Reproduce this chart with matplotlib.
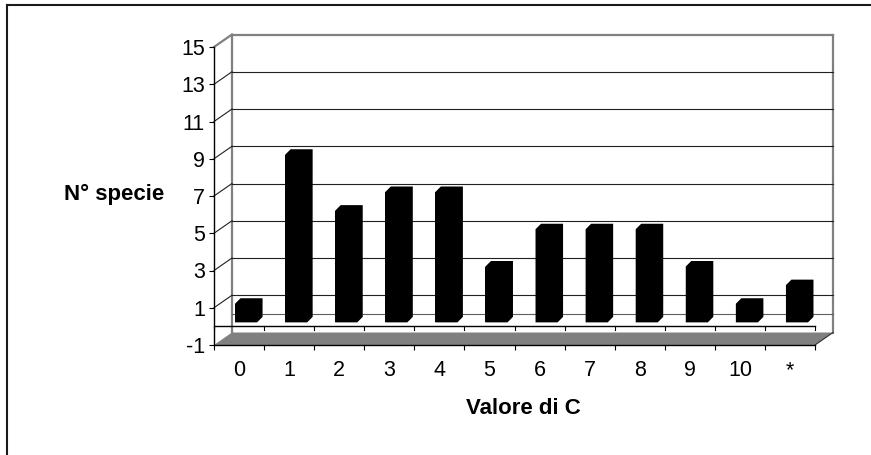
import matplotlib
matplotlib.use("Agg")
import matplotlib.pyplot as plt
from matplotlib.patches import Polygon
from matplotlib.lines import Line2D
import numpy as np

# ---- data ----
categories = ["0", "1", "2", "3", "4", "5", "6", "7", "8", "9", "10", "*"]
n_species = [1, 9, 6, 7, 7, 3, 5, 5, 5, 3, 1, 2]
y_ticks = [-1, 1, 3, 5, 7, 9, 11, 13, 15]
y_ticklabels = ["-1", "1", "3", "5", "7", "9", "11", "13", "15"]
x_title = "Valore di C"
y_title = "N° specie"

plt.rcParams['font.family'] = ['Liberation Sans', 'DejaVu Sans']

W, H = 871, 455
fig = plt.figure(figsize=(W / 100, H / 100), dpi=100)

# front plane of the pseudo-3D box
L, R, T, B = 214, 815, 47, 345
ax = fig.add_axes([L / W, (H - B) / H, (R - L) / W, (B - T) / H])
n = len(categories)
ymin, ymax = -1, 15
ax.set_xlim(0, n)
ax.set_ylim(ymin, ymax)
for s in ax.spines.values():
    s.set_visible(False)
ax.patch.set_visible(False)

pxx = (R - L) / n            # pixels per category
pxy = (B - T) / (ymax - ymin)  # pixels per value unit


def dxd(px):
    return px / pxx


def dyd(px):
    return px / pxy


# depth of the box
DX, DY = dxd(18), dyd(12.5)

GRAY = "#808080"
lw1 = 0.8

# floor
floor = Polygon([(0, ymin), (n, ymin), (n + DX, ymin + DY), (DX, ymin + DY)],
                closed=True, facecolor=GRAY, edgecolor="none", zorder=1, clip_on=False)
ax.add_patch(floor)
ax.plot([n, n + DX], [ymin, ymin + DY], color="#303030", lw=lw1, zorder=2, clip_on=False)

# back wall frame
ax.plot([DX, DX], [ymin + DY, ymax + DY], color=GRAY, lw=1.6, zorder=1, clip_on=False)
ax.plot([n + DX, n + DX], [ymin + DY, ymax + DY], color=GRAY, lw=1.6, zorder=1, clip_on=False)
ax.plot([DX, n + DX], [ymax + DY, ymax + DY], color=GRAY, lw=1.6, zorder=1, clip_on=False)
ax.plot([0, DX], [ymax, ymax + DY], color=GRAY, lw=1.6, zorder=1, clip_on=False)

# gridlines on the back wall and connectors on the side wall
for v in y_ticks[1:-1]:
    ax.plot([DX, n + DX], [v + DY, v + DY], color="#202020", lw=lw1, zorder=1, clip_on=False)
    ax.plot([0, DX], [v, v + DY], color="#202020", lw=lw1, zorder=1, clip_on=False)
ax.plot([DX, n + DX], [0 + DY, 0 + DY], color="#606060", lw=lw1, zorder=1, clip_on=False)

# zero line (category axis) with ticks
ax.plot([0, n], [0, 0], color="black", lw=1.0, zorder=2, clip_on=False)
for k in range(n + 1):
    ax.plot([k, k], [0, -dyd(4)], color="black", lw=lw1, zorder=2, clip_on=False)

# front floor edge
ax.plot([0, n], [ymin, ymin], color="black", lw=1.0, zorder=2, clip_on=False)
# front value axis
ax.plot([0, 0], [ymin, ymax], color="black", lw=1.0, zorder=3, clip_on=False)

# bars (front face) + depth
bx, by = dxd(7), dyd(4)
bw = 0.44
centers = np.arange(n) + 0.5
bars = ax.bar(centers + bx, n_species, width=bw, bottom=by, color="black",
              edgecolor="none", zorder=4)
ddx, ddy = dxd(5.5), dyd(5.5)
for p in bars.patches:
    x0, y0 = p.get_x(), p.get_y()
    x1, y1 = x0 + p.get_width(), y0 + p.get_height()
    hexa = Polygon([(x0, y0), (x0, y1), (x0 + ddx, y1 + ddy), (x1 + ddx, y1 + ddy),
                    (x1 + ddx, y0 + ddy), (x1, y0)], closed=True,
                   facecolor="black", edgecolor="none", zorder=4)
    ax.add_patch(hexa)

# ticks and labels
ax.set_yticks(y_ticks)
ax.set_yticklabels(y_ticklabels)
ax.tick_params(axis="y", direction="out", length=3.6, width=0.8, pad=3,
               labelsize=15.5, colors="black")
ax.set_xticks(centers)
ax.set_xticklabels(categories)
ax.set_xticks(np.arange(n + 1), minor=True)
ax.tick_params(axis="x", which="major", length=0, pad=11, labelsize=15.5)
ax.tick_params(axis="x", which="minor", direction="out", length=3.8, width=0.8)

# axis titles
fig.text(114 / W, 1 - 194 / H, y_title, ha="center", va="center",
         fontsize=16, fontweight="bold")
fig.text(523 / W, 1 - 409 / H, x_title, ha="center", va="center",
         fontsize=16, fontweight="bold")

# outer chart-area border (left and top visible)
fig.add_artist(Line2D([7 / W, 7 / W], [0, 1 - 5 / H], transform=fig.transFigure,
                      color="#1a1a1a", lw=1.5))
fig.add_artist(Line2D([7 / W, 1], [1 - 5 / H, 1 - 5 / H], transform=fig.transFigure,
                      color="#1a1a1a", lw=1.5))

fig.savefig("out.png", dpi=100)
